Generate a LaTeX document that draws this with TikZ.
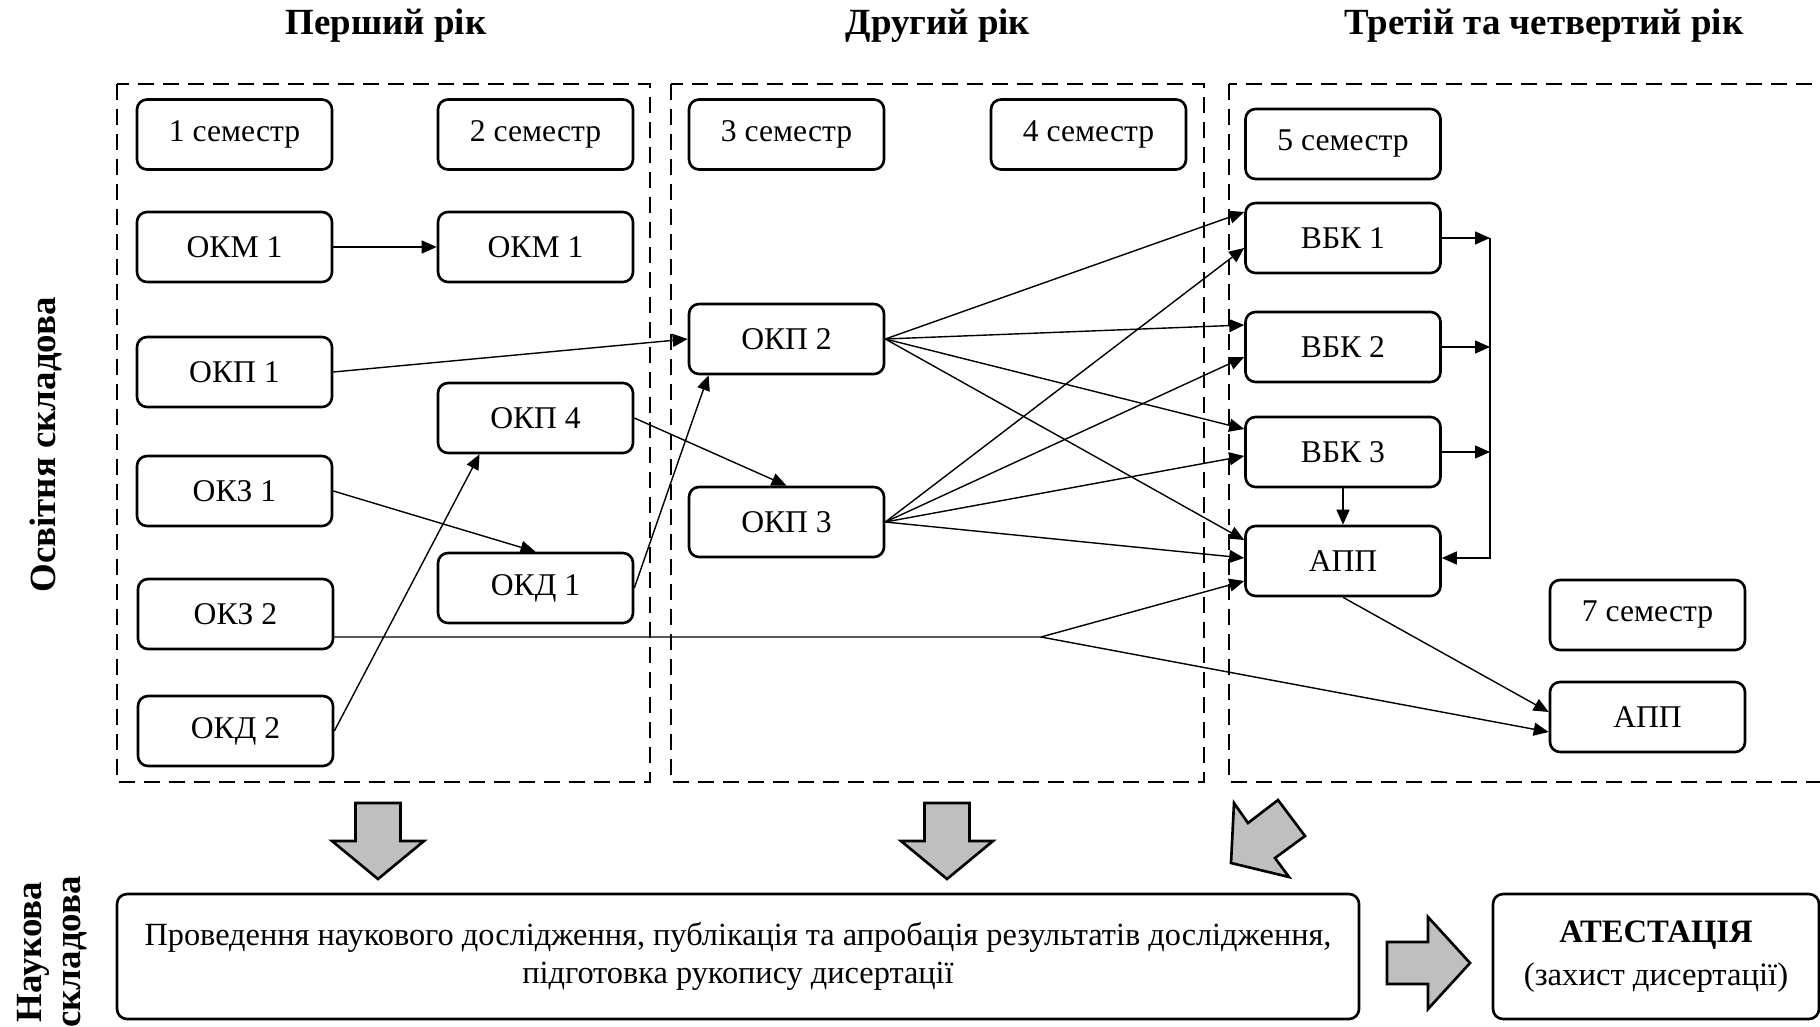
\documentclass[tikz,border=0pt]{standalone}
\usepackage{fontspec}
\setmainfont{Liberation Serif}
\usetikzlibrary{arrows.meta}

\tikzset{
	blok/.style={draw, rounded corners=1mm, line width=0.75pt, minimum width=19.5mm,
		minimum height=7mm, inner sep=0pt, font=\fontsize{9}{11}\selectfont},
	ramka/.style={line width=0.6pt, dash pattern=on 1.6mm off 0.9mm},
	strilka/.style={line width=0.4pt, -{Triangle[length=1.5mm,width=1.3mm]}},
	velyka/.style={draw, line width=0.75pt, fill=gray!50},
	zaholovok/.style={font=\bfseries\fontsize{10.5}{11}\selectfont},
}

\begin{document}
\begin{tikzpicture}[x=0.1mm, y=-0.1mm]

	\useasboundingbox (0,0) rectangle (1820,1027);

	% roky
	\node[zaholovok] (t1) at (386,26) {Перший рік};
	\node[zaholovok] (t2) at (938,26) {Другий рік};
	\node[zaholovok] (t3) at (1544,26) {Третій та четвертий рік};

	\node[zaholovok, rotate=90] (osv) at (46,445) {Освітня складова};
	\node[zaholovok, rotate=90, align=center] (nauk) at (52,952) {Наукова\\складова};

	\draw[ramka] (117,84) rectangle (650,782);
	\draw[ramka] (671,84) rectangle (1204,782);
	\draw[ramka] (1229,84) rectangle (1860,782);

	% 1 rik
	\node[blok] (s1) at (234.5,134.5) {1 семестр};
	\node[blok] (okm1a) at (234.5,247) {ОКМ 1};
	\node[blok] (okp1) at (234.5,372) {ОКП 1};
	\node[blok] (okz1) at (234.5,491) {ОКЗ 1};
	\node[blok] (okz2) at (235.5,614) {ОКЗ 2};
	\node[blok] (okd2) at (235.5,731) {ОКД 2};

	\node[blok] (s2) at (535.5,134.5) {2 семестр};
	\node[blok] (okm1b) at (535.5,247) {ОКМ 1};
	\node[blok] (okp4) at (535.5,418) {ОКП 4};
	\node[blok] (okd1) at (535.5,588) {ОКД 1};

	% 2 rik
	\node[blok] (s3) at (786.5,134.5) {3 семестр};
	\node[blok] (okp2) at (786.5,339) {ОКП 2};
	\node[blok] (okp3) at (786.5,522) {ОКП 3};

	\node[blok] (s4) at (1088.5,134.5) {4 семестр};

	% 3-4 rik
	\node[blok] (s5) at (1343,144) {5 семестр};
	\node[blok] (vbk1) at (1343,238) {ВБК 1};
	\node[blok] (vbk2) at (1343,347) {ВБК 2};
	\node[blok] (vbk3) at (1343,452) {ВБК 3};
	\node[blok] (app) at (1343,561) {АПП};

	\node[blok] (s7) at (1647.5,615) {7 семестр};
	\node[blok] (app7) at (1647.5,717) {АПП};

	\draw[strilka] (okm1a) -- (okm1b);
	\draw[strilka] (okp1.east) -- (okp2.west);
	\draw[strilka] (okz1.east) -- (okd1.north);
	\draw[strilka] (okd2.east) -- (okp4.213);
	\draw[strilka] (okd1.east) .. controls +(0.7mm,2mm) and +(-1.6mm,-4.4mm) .. (okp2.205);
	\draw[strilka] (okp4.east) -- (okp3.north);

	\draw[strilka] (okp2.east) -- ([yshift=2.6mm]vbk1.west);
	\draw[strilka] (okp2.east) -- ([yshift=2.2mm]vbk2.west);
	\draw[strilka] (okp2.east) -- ([yshift=2.3mm]vbk3.west);
	\draw[strilka] (okp2.east) -- ([yshift=2.1mm]app.west);
	\draw[strilka] (okp3.east) -- ([yshift=-1mm]vbk1.west);
	\draw[strilka] (okp3.east) -- ([yshift=-1mm]vbk2.west);
	\draw[strilka] (okp3.east) -- ([yshift=-0.4mm]vbk3.west);
	\draw[strilka] (okp3.east) -- ([yshift=0.3mm]app.west);

	\coordinate (jn) at (1041,637);
	\draw[line width=0.4pt] ([yshift=-2.3mm]okz2.east) -- (jn);
	\draw[strilka] (jn) -- ([yshift=-2mm]app.west);
	\draw[strilka] (jn) -- ([yshift=-1.5mm]app7.west);
	\draw[strilka] (app.south) -- ([yshift=0.5mm]app7.west);
	\draw[strilka] (vbk3) -- (app);

	\coordinate (rb) at (1490,0);
	\draw[strilka] (vbk1.east) -- (vbk1.east -| rb);
	\draw[strilka] (vbk2.east) -- (vbk2.east -| rb);
	\draw[strilka] (vbk3.east) -- (vbk3.east -| rb);
	\draw[strilka] (vbk1.east -| rb) -- ([yshift=0.3mm]app.east -| rb) -- ([yshift=0.3mm]app.east);

	% naukova skladova
	\node[blok, minimum width=124.2mm, minimum height=12.5mm, align=center,
		font=\fontsize{9.2}{10.8}\selectfont] (res) at (738,956.5)
		{Проведення наукового дослідження, публікація та апробація результатів дослідження,\\
		підготовка рукопису дисертації};
	\node[blok, minimum width=32.6mm, minimum height=12.5mm, align=center,
		font=\fontsize{9.3}{11.2}\selectfont] (atest) at (1656,956.5)
		{\textbf{АТЕСТАЦІЯ}\\[0.4mm](захист дисертації)};

	\draw[velyka] (355.5,803) -- (400.5,803) -- (400.5,841) -- (424,841) -- (378,879)
		-- (332,841) -- (355.5,841) -- cycle;
	\draw[velyka] (924.5,803) -- (969.5,803) -- (969.5,841) -- (993,841) -- (947,879)
		-- (901,841) -- (924.5,841) -- cycle;
	\draw[velyka] (1231,863) -- (1234,803) -- (1248,823) -- (1278,800) -- (1305,836)
		-- (1275,858) -- (1289,877) -- cycle;
	\draw[velyka] (1387,942) -- (1428,942) -- (1428,917) -- (1470,963) -- (1428,1009)
		-- (1428,984) -- (1387,984) -- cycle;

\end{tikzpicture}
\end{document}
